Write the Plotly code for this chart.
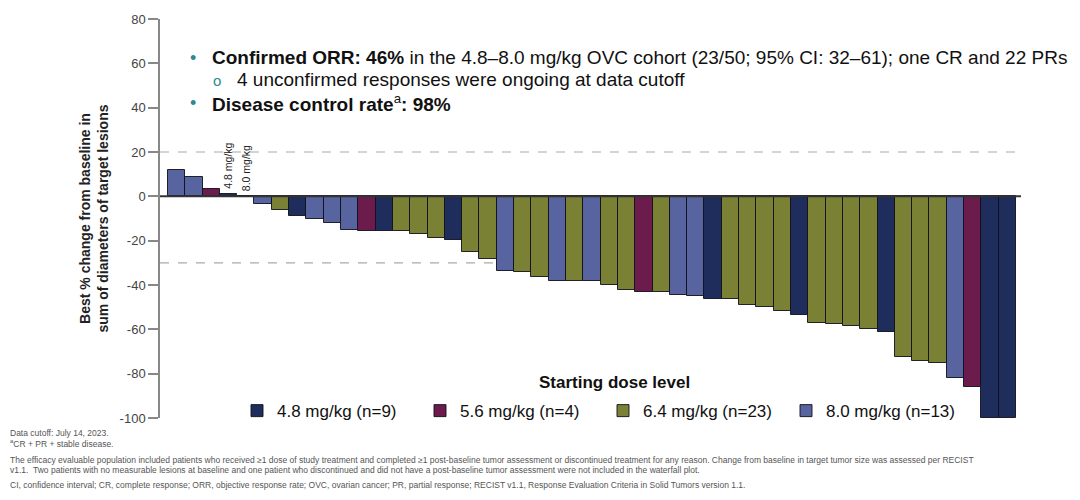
import plotly.graph_objects as go

# ---- data ----
patient_dose = ["8.0", "8.0", "5.6", "4.8", "8.0", "8.0", "6.4", "4.8", "8.0", "8.0",
                "8.0", "5.6", "4.8", "6.4", "6.4", "6.4", "4.8", "6.4", "6.4", "8.0",
                "6.4", "6.4", "8.0", "6.4", "8.0", "6.4", "6.4", "5.6", "6.4", "8.0",
                "8.0", "4.8", "6.4", "6.4", "6.4", "6.4", "4.8", "6.4", "6.4", "6.4",
                "6.4", "4.8", "6.4", "6.4", "6.4", "8.0", "5.6", "4.8", "4.8"]
best_change = [11.7, 8.7, 3.5, 1.0, 0.0, -3.3, -6.3, -9.0, -10.0, -12.2,
               -15.4, -15.7, -15.7, -15.8, -16.8, -18.9, -19.8, -25.2, -28.3, -33.5,
               -34.0, -36.5, -38.3, -38.4, -38.4, -39.8, -42.4, -43.2, -43.3, -44.6,
               -45.1, -46.1, -46.5, -48.9, -50.1, -51.7, -53.6, -57.3, -57.8, -58.4,
               -59.7, -61.0, -72.5, -74.3, -75.2, -81.8, -85.8, -100.0, -100.0]
dose_levels = ["4.8", "5.6", "6.4", "8.0"]
dose_names = ["4.8 mg/kg (n=9)", "5.6 mg/kg (n=4)", "6.4 mg/kg (n=23)", "8.0 mg/kg (n=13)"]
dose_colors = ["#1E2D5C", "#6B1C4C", "#7A8034", "#5864A0"]
small_label_idx = [3, 4]
small_label_text = ["4.8 mg/kg", "8.0 mg/kg"]
y_ticks = [80, 60, 40, 20, 0, -20, -40, -60, -80, -100]
ref_lines = [20, -30]

FONT = "Liberation Sans, Arial, sans-serif"

fig = go.Figure()
for lvl, name, col in zip(dose_levels, dose_names, dose_colors):
    xs = [i for i, d in enumerate(patient_dose) if d == lvl]
    ys = [best_change[i] for i in xs]
    fig.add_trace(go.Bar(
        x=xs, y=ys, name=name, width=1.0,
        marker=dict(color=col, line=dict(color="rgba(15,15,25,0.9)", width=1)),
    ))

# reference dashed lines (behind bars)
for v in ref_lines:
    fig.add_shape(type="line", xref="paper", x0=0, x1=1, yref="y", y0=v, y1=v,
                  line=dict(color="#aaaaaa", width=1.2, dash="dash"), layer="below")
# zero line
fig.add_shape(type="line", xref="paper", x0=0, x1=1, yref="y", y0=0, y1=0,
              line=dict(color="#333333", width=2), layer="above")

# labels over small bars
for idx, txt in zip(small_label_idx, small_label_text):
    fig.add_annotation(x=idx, y=max(best_change[idx], 0), text=txt, textangle=-90,
                       showarrow=False, xanchor="center", yanchor="bottom", yshift=3,
                       font=dict(family=FONT, size=10.5, color="#222"))

# page-pixel helpers (plot area spans page x 160..1021, y 15..418)
def px_x(px):
    return (px - 160) / 861.0

def px_y(py):
    return (418 - py) / 403.0

teal = "#2E8A8C"
txt_font = dict(family=FONT, size=19, color="#111")
fig.add_annotation(xref="paper", yref="paper", x=px_x(193), y=px_y(54), text="•",
                   showarrow=False, xanchor="center", yanchor="middle",
                   font=dict(family=FONT, size=18, color=teal))
fig.add_annotation(xref="paper", yref="paper", x=px_x(210), y=px_y(54),
                   text="<b>Confirmed ORR: 46%</b> in the 4.8–8.0 mg/kg OVC cohort (23/50; 95% CI: 32–61); one CR and 22 PRs",
                   showarrow=False, xanchor="left", yanchor="middle", font=txt_font)
fig.add_annotation(xref="paper", yref="paper", x=px_x(217), y=px_y(77), text="o",
                   showarrow=False, xanchor="center", yanchor="middle",
                   font=dict(family=FONT, size=15, color=teal))
fig.add_annotation(xref="paper", yref="paper", x=px_x(235), y=px_y(76),
                   text="4 unconfirmed responses were ongoing at data cutoff",
                   showarrow=False, xanchor="left", yanchor="middle", font=txt_font)
fig.add_annotation(xref="paper", yref="paper", x=px_x(193), y=px_y(100), text="•",
                   showarrow=False, xanchor="center", yanchor="middle",
                   font=dict(family=FONT, size=18, color=teal))
fig.add_annotation(xref="paper", yref="paper", x=px_x(210), y=px_y(100),
                   text="<b>Disease control rate</b><sup>a</sup><b>: 98%</b>",
                   showarrow=False, xanchor="left", yanchor="middle", font=txt_font)

# legend title
fig.add_annotation(xref="paper", yref="paper", x=px_x(614), y=px_y(382),
                   text="<b>Starting dose level</b>", showarrow=False,
                   xanchor="center", yanchor="middle",
                   font=dict(family=FONT, size=17, color="#111"))

# footnotes
foot_font = dict(family=FONT, size=8.5, color="#555")
foot_lines = [
    (433, "Data cutoff: July 14, 2023."),
    (444, "<sup>a</sup>CR + PR + stable disease."),
    (460, "The efficacy evaluable population included patients who received ≥1 dose of study treatment and completed ≥1 post-baseline tumor assessment or discontinued treatment for any reason. Change from baseline in target tumor size was assessed per RECIST"),
    (471, "v1.1.  Two patients with no measurable lesions at baseline and one patient who discontinued and did not have a post-baseline tumor assessment were not included in the waterfall plot."),
    (486, "CI, confidence interval; CR, complete response; ORR, objective response rate; OVC, ovarian cancer; PR, partial response; RECIST v1.1, Response Evaluation Criteria in Solid Tumors version 1.1."),
]
for py, t in foot_lines:
    fig.add_annotation(xref="paper", yref="paper", x=px_x(8), y=px_y(py), text=t,
                       showarrow=False, xanchor="left", yanchor="middle", font=foot_font)

fig.update_layout(
    width=1080, height=500,
    margin=dict(l=160, r=59, t=15, b=82),
    paper_bgcolor="white", plot_bgcolor="white",
    barmode="overlay", bargap=0,
    font=dict(family=FONT, color="#222"),
    showlegend=True,
    legend=dict(orientation="h", x=px_x(237), y=px_y(411), xanchor="left", yanchor="middle",
                entrywidth=138, entrywidthmode="pixels", bgcolor="rgba(0,0,0,0)",
                font=dict(family=FONT, size=17, color="#111"), traceorder="normal"),
    xaxis=dict(range=[-0.96, 48.79], showticklabels=False, showgrid=False,
               zeroline=False, showline=False, ticks=""),
    yaxis=dict(range=[-100, 80], tickvals=y_ticks, ticktext=[str(v) for v in y_ticks],
               showgrid=False, zeroline=False, showline=True, linecolor="#888",
               linewidth=1.5, ticks="outside", ticklen=10, tickcolor="#888", tickwidth=1.5,
               tickfont=dict(family=FONT, size=13, color="#444"),
               title=dict(text="<b>Best % change from baseline in<br>sum of diameters of target lesions</b>",
                          font=dict(family=FONT, size=14, color="#222"), standoff=8)),
)

fig.write_html("out.html",
               config={"displayModeBar": False},
               post_script="document.body.style.margin='0';document.body.style.overflow='hidden';")
